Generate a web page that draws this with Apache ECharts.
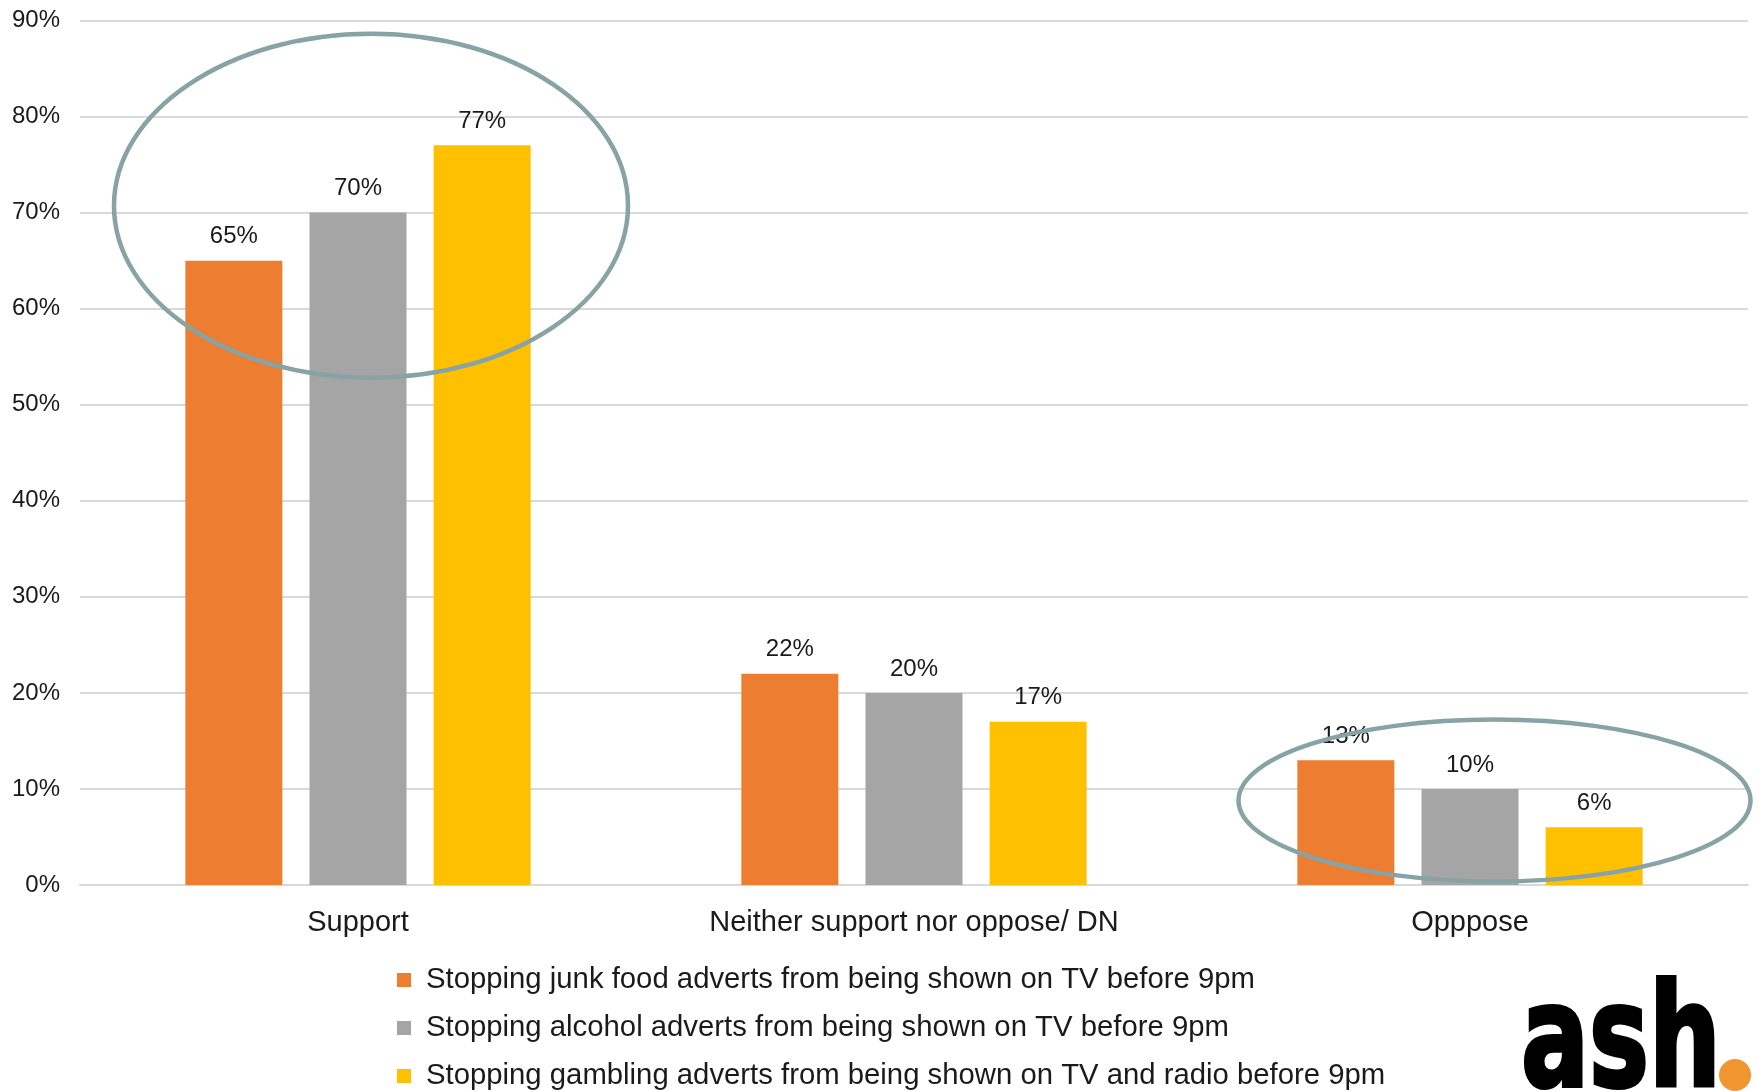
<!DOCTYPE html>
<html>
<head>
<meta charset="utf-8">
<title>Support for stopping adverts before 9pm</title>
<script src="https://cdn.jsdelivr.net/npm/echarts@6/dist/echarts.min.js"></script>
<style>
  html, body { margin: 0; padding: 0; background: #ffffff; }
  #chart { width: 1758px; height: 1091px; }
</style>
</head>
<body>
<div id="chart"></div>
<script>
// Response categories along the x axis
const categories = ['Support', 'Neither support nor oppose/ DN', 'Opppose'];

// Series names (legend entries)
const seriesNames = [
  'Stopping junk food adverts from being shown on TV before 9pm',
  'Stopping alcohol adverts from being shown on TV before 9pm',
  'Stopping gambling adverts from being shown on TV and radio before 9pm'
];

// Percentages per series, in category order
const junkFood = [65, 22, 13];
const alcohol  = [70, 20, 10];
const gambling = [77, 17, 6];

// Value-axis ticks (percent)
const yTicks = [0, 10, 20, 30, 40, 50, 60, 70, 80, 90];

const colors = ['#ED7D31', '#A5A5A5', '#FFC000'];
const FONT = '"Liberation Sans", Arial, sans-serif';

const chart = echarts.init(document.getElementById('chart'), null, { renderer: 'canvas' });

function barSeries(name, data, color) {
  return {
    name: name,
    type: 'bar',
    data: data,
    barWidth: 97,
    barGap: '28%',
    itemStyle: { color: color },
    label: {
      show: true,
      position: 'top',
      distance: 12,
      formatter: p => p.value + '%',
      color: '#1a1a1a',
      fontFamily: FONT,
      fontSize: 24
    },
    emphasis: { disabled: true }
  };
}

const option = {
  backgroundColor: '#ffffff',
  animation: false,
  color: colors,
  grid: {
    left: 80,
    right: 10,
    top: 20.5,
    bottom: 206,
    containLabel: false,
    outerBoundsMode: 'none'
  },
  xAxis: {
    type: 'category',
    data: categories,
    axisLine: { show: true, lineStyle: { color: '#D9D9D9', width: 2 } },
    axisTick: { show: false },
    axisLabel: {
      color: '#1a1a1a',
      fontFamily: FONT,
      fontSize: 29,
      margin: 23,
      interval: 0
    }
  },
  yAxis: {
    type: 'value',
    min: yTicks[0],
    max: yTicks[yTicks.length - 1],
    interval: yTicks[1] - yTicks[0],
    axisLine: { show: false },
    axisTick: { show: false },
    splitLine: { lineStyle: { color: '#D9D9D9', width: 2 } },
    axisLabel: {
      color: '#1a1a1a',
      fontFamily: FONT,
      fontSize: 24,
      margin: 20,
      formatter: v => v + '%'
    }
  },
  legend: {
    orient: 'vertical',
    left: 397,
    top: 963,
    width: 1200,
    height: 200,
    padding: 0,
    itemWidth: 14,
    itemHeight: 14,
    itemGap: 14,
    icon: 'rect',
    selectedMode: false,
    data: seriesNames,
    textStyle: {
      color: '#1a1a1a',
      fontFamily: FONT,
      fontSize: 29.3,
      lineHeight: 34,
      padding: [0, 0, 0, 10]
    }
  },
  series: [
    barSeries(seriesNames[0], junkFood, colors[0]),
    barSeries(seriesNames[1], alcohol, colors[1]),
    barSeries(seriesNames[2], gambling, colors[2])
  ],
  graphic: [
    // highlight rings around the Support and Oppose groups
    {
      type: 'ellipse',
      z: 100,
      silent: true,
      shape: { cx: 371, cy: 205.7, rx: 257, ry: 172 },
      style: { fill: 'none', stroke: '#87A3A6', lineWidth: 4.5 }
    },
    {
      type: 'ellipse',
      z: 100,
      silent: true,
      shape: { cx: 1494.5, cy: 800.5, rx: 256, ry: 81 },
      style: { fill: 'none', stroke: '#87A3A6', lineWidth: 4.5 }
    },
    // organisation logo
    {
      type: 'text',
      z: 100,
      silent: true,
      x: 1521,
      y: 1049,
      scaleX: 0.71,
      style: {
        text: 'ash',
        fill: '#000000',
        stroke: '#000000',
        lineWidth: 4,
        font: 'bold 142px "DejaVu Sans", sans-serif',
        textAlign: 'left',
        textVerticalAlign: 'middle'
      }
    },
    {
      type: 'circle',
      z: 100,
      silent: true,
      shape: { cx: 1735, cy: 1075, r: 16 },
      style: { fill: '#F0952F' }
    }
  ]
};

chart.setOption(option);
</script>
</body>
</html>
